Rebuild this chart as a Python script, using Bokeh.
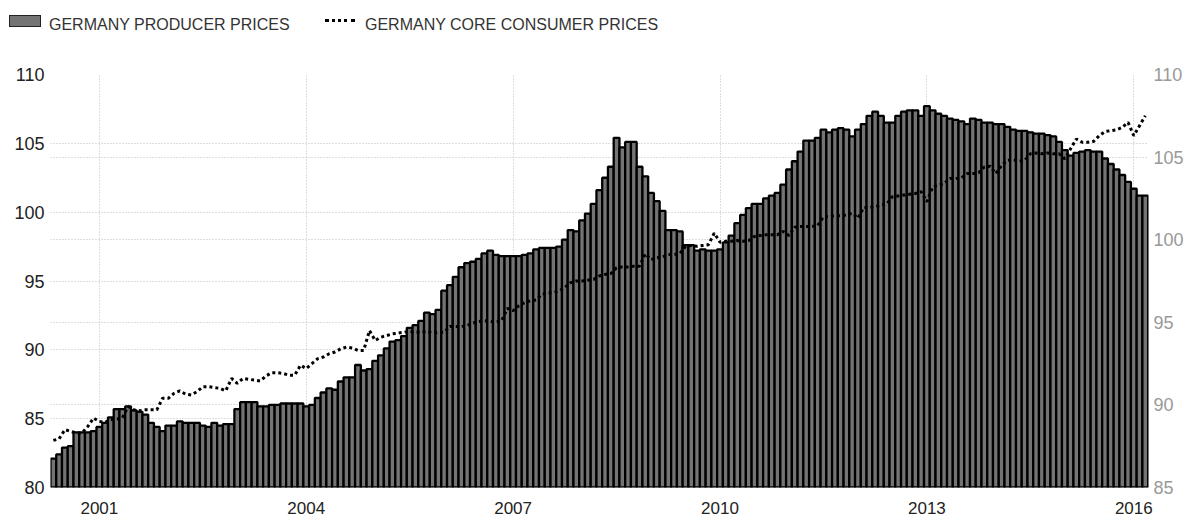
from bokeh.plotting import figure
from bokeh.layouts import column
from bokeh.models import Range1d, LinearAxis, FixedTicker, Grid, Div
from bokeh.embed import file_html
from bokeh.resources import INLINE

# ---- data (monthly, first value = May 2000) ----
START_YEAR = 2000
START_MONTH = 5

ppi = [
    82.1, 82.4, 82.9, 83.0, 84.0, 84.0, 84.0, 84.1,                              # 2000 (May-Dec)
    84.4, 84.7, 85.1, 85.7, 85.7, 85.9, 85.6, 85.5, 85.3, 84.7, 84.4, 84.1,      # 2001
    84.5, 84.5, 84.8, 84.7, 84.7, 84.7, 84.5, 84.4, 84.7, 84.5, 84.6, 84.6,      # 2002
    85.7, 86.2, 86.2, 86.2, 85.9, 85.9, 86.0, 86.0, 86.1, 86.1, 86.1, 86.1,      # 2003
    85.9, 86.0, 86.5, 86.9, 87.2, 87.1, 87.7, 88.0, 88.0, 88.9, 88.5, 88.6,      # 2004
    89.2, 89.6, 90.1, 90.6, 90.7, 91.0, 91.6, 91.8, 92.1, 92.7, 92.6, 92.9,      # 2005
    94.3, 94.7, 95.3, 96.0, 96.3, 96.4, 96.6, 97.0, 97.2, 96.9, 96.8, 96.8,      # 2006
    96.8, 96.8, 96.9, 97.0, 97.3, 97.4, 97.4, 97.4, 97.5, 98.0, 98.7, 98.6,      # 2007
    99.4, 99.9, 100.6, 101.6, 102.5, 103.3, 105.4, 104.7, 105.1, 105.1, 103.3, 102.6,  # 2008
    101.4, 100.8, 100.1, 98.7, 98.7, 98.6, 97.6, 97.6, 97.2, 97.3, 97.2, 97.2,   # 2009
    97.3, 97.8, 98.3, 99.2, 99.8, 100.3, 100.6, 100.6, 101.0, 101.2, 101.4, 102.0,    # 2010
    103.1, 103.7, 104.4, 105.2, 105.2, 105.4, 106.0, 105.8, 106.0, 106.1, 106.0, 105.5,  # 2011
    106.0, 106.4, 107.0, 107.3, 107.0, 106.5, 106.5, 107.0, 107.3, 107.4, 107.4, 107.0,  # 2012
    107.7, 107.4, 107.15, 107.0, 106.8, 106.7, 106.6, 106.4, 106.8, 106.7, 106.5, 106.5,  # 2013
    106.4, 106.4, 106.2, 106.0, 105.9, 105.9, 105.8, 105.7, 105.7, 105.6, 105.5, 105.1,  # 2014
    104.5, 104.1, 104.3, 104.4, 104.5, 104.4, 104.4, 103.9, 103.5, 103.1, 102.7, 102.2,  # 2015
    101.7, 101.2, 101.2,                                                          # 2016 (Jan-Mar)
]

core_cpi = [
    87.85, 87.95, 88.5, 88.4, 88.3, 88.3, 88.7, 89.2,                                   # 2000
    89.0, 88.95, 89.1, 89.15, 89.2, 89.9, 89.7, 89.65, 89.7, 89.7, 89.7, 90.4,          # 2001
    90.4, 90.7, 90.85, 90.65, 90.6, 90.8, 91.1, 91.1, 91.05, 91.0, 90.85, 91.6,         # 2002
    91.3, 91.6, 91.55, 91.5, 91.45, 91.75, 91.95, 91.95, 91.9, 91.8, 91.8, 92.4,        # 2003
    92.2, 92.5, 92.8, 92.9, 93.1, 93.2, 93.4, 93.5, 93.45, 93.3, 93.3, 94.5,            # 2004
    93.9, 94.1, 94.2, 94.3, 94.35, 94.4, 94.45, 94.4, 94.4, 94.45, 94.35, 94.4,         # 2005
    94.4, 94.75, 94.75, 94.75, 94.8, 94.95, 95.05, 95.1, 95.05, 95.0, 95.1, 95.85,      # 2006
    95.7, 96.0, 96.2, 96.3, 96.35, 96.7, 96.75, 96.8, 96.9, 97.1, 97.4, 97.5,           # 2007
    97.5, 97.55, 97.6, 97.8, 97.9, 97.95, 98.3, 98.35, 98.35, 98.4, 98.4, 99.15,        # 2008
    98.8, 98.9, 98.95, 99.1, 99.1, 99.15, 99.6, 99.65, 99.6, 99.65, 99.7, 100.4,        # 2009
    99.85, 99.9, 99.9, 99.95, 99.9, 99.95, 100.2, 100.25, 100.3, 100.3, 100.3, 100.5,   # 2010
    100.25, 100.75, 100.8, 100.8, 100.8, 100.85, 101.4, 101.4, 101.45, 101.45, 101.5, 101.6,  # 2011
    101.3, 101.95, 101.95, 102.0, 102.1, 102.15, 102.6, 102.65, 102.7, 102.75, 102.8, 102.9,  # 2012
    102.3, 103.2, 103.3, 103.4, 103.7, 103.7, 103.75, 104.0, 104.0, 104.05, 104.4, 104.45,   # 2013
    104.0, 104.5, 104.8, 104.85, 104.75, 104.8, 105.2, 105.25, 105.2, 105.25, 105.2, 105.2,  # 2014
    104.9, 105.5, 106.1, 105.9, 105.9, 105.95, 106.3, 106.55, 106.6, 106.65, 106.8, 107.1,   # 2015
    106.3, 106.9, 107.5,                                                                # 2016
]

x_ticks = [2001, 2004, 2007, 2010, 2013, 2016]
left_ticks = [80, 85, 90, 95, 100, 105, 110]
right_ticks = [85, 90, 95, 100, 105, 110]

series_names = ["GERMANY PRODUCER PRICES", "GERMANY CORE CONSUMER PRICES"]

# fractional-year position of each month
months = [START_YEAR + (START_MONTH - 1 + i) / 12.0 for i in range(len(ppi))]

FONT = "Liberation Sans"
GRID_COLOR = "#bdbdbd"
GRID_DASH = "1 2"
BAR_FILL = "#747474"

W, H = 1189, 520
LEGEND_H = 36

# ---------------- legend strip (HTML, real text) ----------------
legend_html = (
    f'<div style="position:relative;width:{W}px;height:{LEGEND_H}px;'
    f'font-family:\'{FONT}\';font-size:16px;color:#333;">'
    f'<span style="position:absolute;left:9px;top:15px;width:32px;height:12px;'
    f'background:{BAR_FILL};border:1px solid #222;"></span>'
    f'<span style="position:absolute;left:49px;top:16px;line-height:18px;'
    f'white-space:nowrap;">{series_names[0]}</span>'
    f'<span style="position:absolute;left:325px;top:19px;width:30px;height:0;'
    f'border-top:3px dotted #000;"></span>'
    f'<span style="position:absolute;left:365px;top:16px;line-height:18px;'
    f'white-space:nowrap;">{series_names[1]}</span>'
    f'</div>'
)
legend_div = Div(text=legend_html, width=W, height=LEGEND_H, margin=(0, 0, 0, 0))

# ---------------- main chart ----------------
p = figure(width=W, height=H - LEGEND_H, output_backend="svg", toolbar_location=None,
           x_range=Range1d(months[0] - 1 / 24.0, months[-1] + 1 / 24.0 + 0.005),
           y_range=Range1d(80, 110),
           min_border_left=50, min_border_right=41, min_border_top=74 - LEGEND_H,
           min_border_bottom=33)
p.extra_y_ranges = {"right": Range1d(85, 110)}
p.outline_line_color = None
p.background_fill_color = "white"

p.vbar(x=months, top=ppi, bottom=80, width=1 / 12.0,
       fill_color=BAR_FILL, line_color="black", line_width=2.3)
p.line(months, core_cpi, y_range_name="right",
       line_color="black", line_width=3, line_dash="3 3")

# x axis
xa = p.xaxis[0]
xa.ticker = FixedTicker(ticks=x_ticks)
xa.major_label_overrides = {t: str(t) for t in x_ticks}
xa.axis_line_color = None
xa.major_tick_line_color = None
xa.minor_tick_line_color = None
xa.major_tick_in = 0
xa.major_tick_out = 0
xa.major_label_standoff = 14
xa.major_label_text_font = FONT
xa.major_label_text_font_size = "17px"
xa.major_label_text_color = "#222222"

# left axis
ya = p.yaxis[0]
ya.ticker = FixedTicker(ticks=left_ticks)
ya.axis_line_color = None
ya.major_tick_line_color = None
ya.minor_tick_line_color = None
ya.major_tick_in = 0
ya.major_tick_out = 0
ya.major_label_standoff = 6
ya.major_label_text_font = FONT
ya.major_label_text_font_size = "18px"
ya.major_label_text_color = "#222222"

# right axis
ra = LinearAxis(y_range_name="right", ticker=FixedTicker(ticks=right_ticks))
ra.axis_line_color = None
ra.major_tick_line_color = None
ra.minor_tick_line_color = None
ra.major_tick_in = 0
ra.major_tick_out = 0
ra.major_label_standoff = 5
ra.major_label_text_font = FONT
ra.major_label_text_font_size = "18px"
ra.major_label_text_color = "#999999"
p.add_layout(ra, "right")

# grids
p.xgrid.ticker = FixedTicker(ticks=x_ticks)
p.xgrid.grid_line_color = GRID_COLOR
p.xgrid.grid_line_dash = GRID_DASH
p.ygrid.ticker = FixedTicker(ticks=left_ticks)
p.ygrid.grid_line_color = GRID_COLOR
p.ygrid.grid_line_dash = GRID_DASH
rgrid = Grid(dimension=1, ticker=FixedTicker(ticks=right_ticks), y_range_name="right",
             grid_line_color=GRID_COLOR, grid_line_dash=GRID_DASH)
p.add_layout(rgrid)

layout = column(legend_div, p, spacing=0)

open("out.html", "w").write(file_html(layout, INLINE))
